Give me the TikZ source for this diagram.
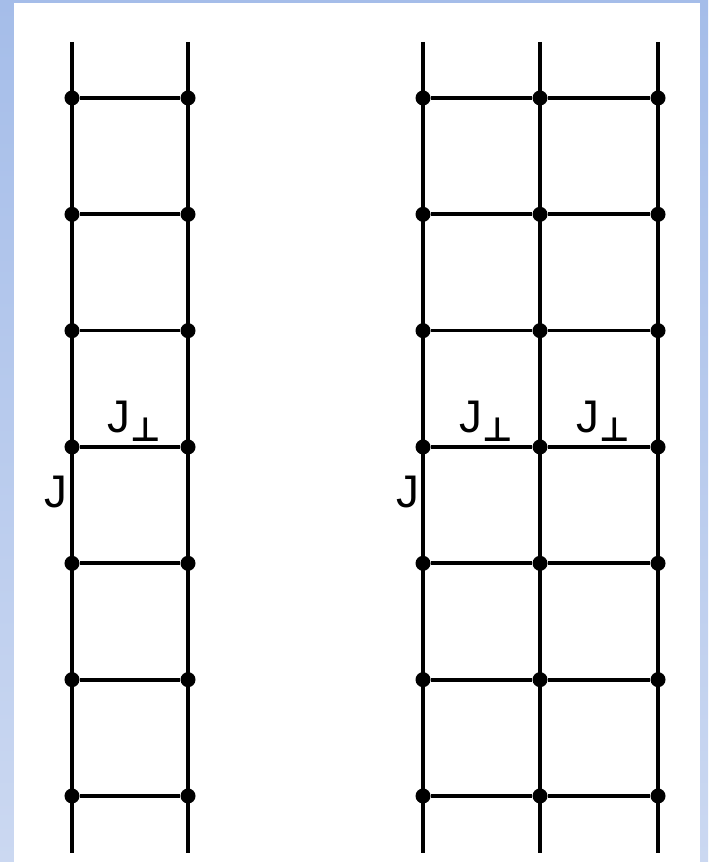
\documentclass[tikz,border=0pt]{standalone}
\usepackage{fontspec}
\setmainfont{Liberation Sans}
\newfontfamily\symfont{DejaVu Sans}
\usetikzlibrary{positioning}

\definecolor{frametop}{HTML}{A5BDE9}
\definecolor{framebot}{HTML}{CBD8F1}

% coupling label with a lowered perp sign
\newcommand{\Jperp}{J\raisebox{-0.08cm}{\fontsize{9.5}{10}\symfont\bfseries ⊥}}

\begin{document}
\begin{tikzpicture}[
  x=0.01cm, y=-0.01cm,
  font=\fontsize{13}{15}\selectfont,
  site/.style={circle, fill, inner sep=0pt, minimum size=0.15cm},
  leg/.style={line width=1.15pt},
  rung/.style={line width=1.05pt},
  lbl/.style={inner sep=0pt, anchor=base west}
]

% frame
\useasboundingbox (0,0) rectangle (708,862);
\shade[top color=frametop, bottom color=framebot] (0,0) rectangle (708,862);
\fill[white] (14,3) rectangle (700,862);

% left ladder: two legs
\foreach \c/\x in {1/72, 2/188} {
  \coordinate (Lt\c) at (\x,42);
  \coordinate (Lb\c) at (\x,853);
  \foreach \r in {1,...,7}
    \node[site] (L\c-\r) at (\x,{98+(\r-1)*116.33}) {};
  \draw[leg] (Lt\c) -- (L\c-1.center);
  \foreach \r [evaluate=\r as \s using int(\r+1)] in {1,...,6}
    \draw[leg] (L\c-\r.center) -- (L\c-\s.center);
  \draw[leg] (L\c-7.center) -- (Lb\c);
}
\foreach \r in {1,...,7}
  \draw[rung] (L1-\r) -- (L2-\r);

% right ladder: three legs
\foreach \c/\x in {1/423, 2/540, 3/658} {
  \coordinate (Rt\c) at (\x,42);
  \coordinate (Rb\c) at (\x,853);
  \foreach \r in {1,...,7}
    \node[site] (R\c-\r) at (\x,{98+(\r-1)*116.33}) {};
  \draw[leg] (Rt\c) -- (R\c-1.center);
  \foreach \r [evaluate=\r as \s using int(\r+1)] in {1,...,6}
    \draw[leg] (R\c-\r.center) -- (R\c-\s.center);
  \draw[leg] (R\c-7.center) -- (Rb\c);
}
\foreach \r in {1,...,7} {
  \draw[rung] (R1-\r) -- (R2-\r);
  \draw[rung] (R2-\r) -- (R3-\r);
}

% couplings
\node[lbl] (Lperp) at (107,433) {\Jperp};
\node[lbl] (Lpar) at (44,508) {J};
\node[lbl] (Rperp1) at (459,433) {\Jperp};
\node[lbl] (Rperp2) at (576,433) {\Jperp};
\node[lbl] (Rpar) at (396,508) {J};

\end{tikzpicture}
\end{document}
